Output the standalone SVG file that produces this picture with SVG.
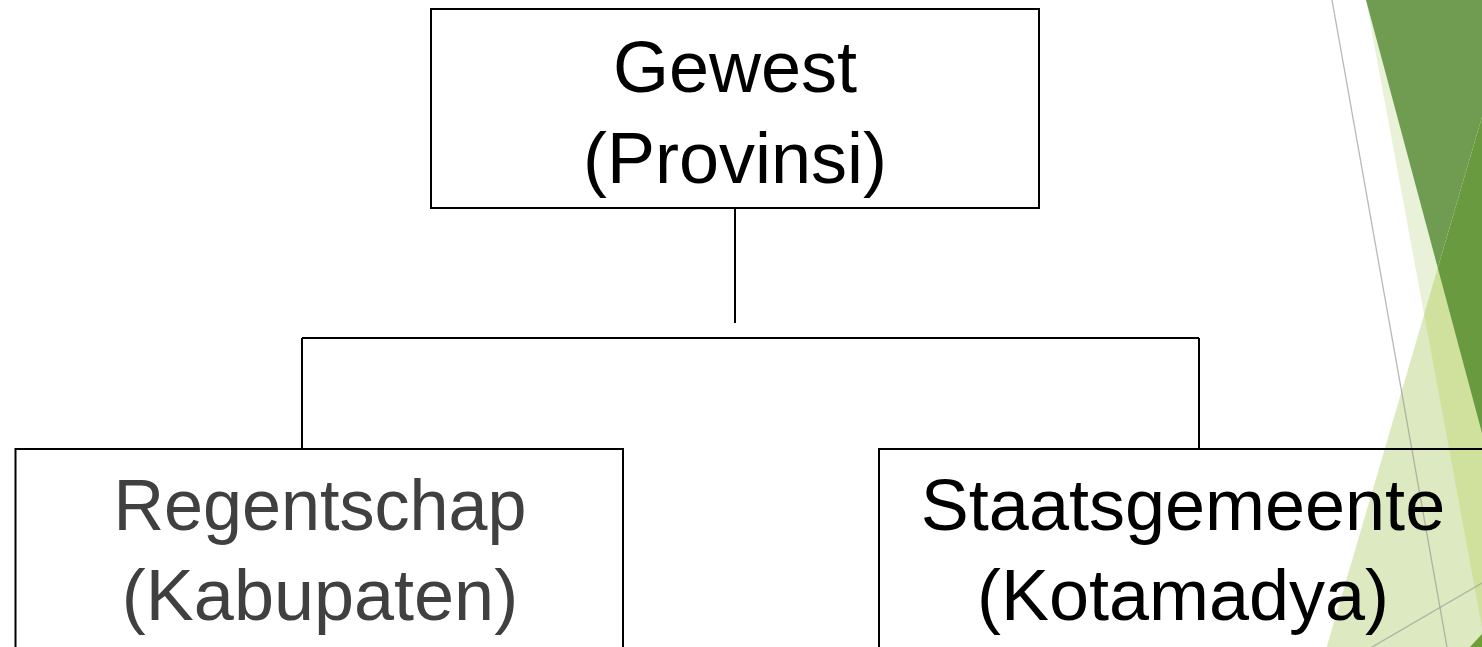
<svg xmlns="http://www.w3.org/2000/svg" width="1482" height="647" viewBox="0 0 1482 647">
  <style>
    .box { fill: none; stroke: #000; stroke-width: 2; }
    .wire { fill: none; stroke: #000; stroke-width: 2; }
    .label { font-family: "Liberation Sans", Arial, sans-serif; font-size: 72px; text-anchor: middle; }
    .dark { fill: #000; }
    .grey { fill: #404040; }
    .facet-line { fill: none; stroke: #9a9a9a; stroke-width: 1.3; stroke-opacity: 0.7; }
  </style>
  <defs>
    <clipPath id="riseClip">
      <polygon points="1482,117 1326.7,647 1482,647"/>
    </clipPath>
  </defs>

  <rect x="0" y="0" width="1482" height="647" fill="#ffffff"/>

  <!-- right-hand facet decoration -->
  <g id="facet">
    <polygon points="1366,0 1482,0 1482,627" fill="#e9f1d9"/>
    <polygon points="1366,0 1482,0 1482,433" fill="#709c51"/>
    <polygon points="1482,117 1326.7,647 1482,647" fill="#dde9c1"/>
    <g clip-path="url(#riseClip)">
      <polygon points="1366,0 1482,0 1482,627" fill="#d0e19e"/>
      <polygon points="1366,0 1482,0 1482,433" fill="#6a9a40"/>
    </g>
    <polygon points="1470,647 1482,634 1482,647" fill="#6aa034"/>
    <line class="facet-line" x1="1332" y1="0" x2="1447" y2="647"/>
    <line class="facet-line" x1="1372" y1="647" x2="1482" y2="583"/>
  </g>

  <!-- tree connectors -->
  <g id="connectors">
    <line class="wire" x1="735" y1="208" x2="735" y2="323"/>
    <line class="wire" x1="302" y1="338" x2="1199" y2="338"/>
    <line class="wire" x1="302" y1="338" x2="302" y2="449"/>
    <line class="wire" x1="1199" y1="338" x2="1199" y2="449"/>
  </g>

  <g id="gewest">
    <rect class="box" x="431" y="9" width="608" height="199"/>
    <text class="label dark" x="735" y="92">Gewest</text>
    <text class="label dark" x="735" y="183">(Provinsi)</text>
  </g>

  <g id="regentschap">
    <rect class="box" x="15.5" y="449" width="607.5" height="230"/>
    <text class="label grey" x="320" y="530" textLength="413" lengthAdjust="spacingAndGlyphs">Regentschap</text>
    <text class="label grey" x="320" y="620">(Kabupaten)</text>
  </g>

  <g id="staatsgemeente">
    <rect class="box" x="879" y="449" width="608" height="230"/>
    <text class="label dark" x="1183" y="530">Staatsgemeente</text>
    <text class="label dark" x="1183" y="620">(Kotamadya)</text>
  </g>
</svg>
